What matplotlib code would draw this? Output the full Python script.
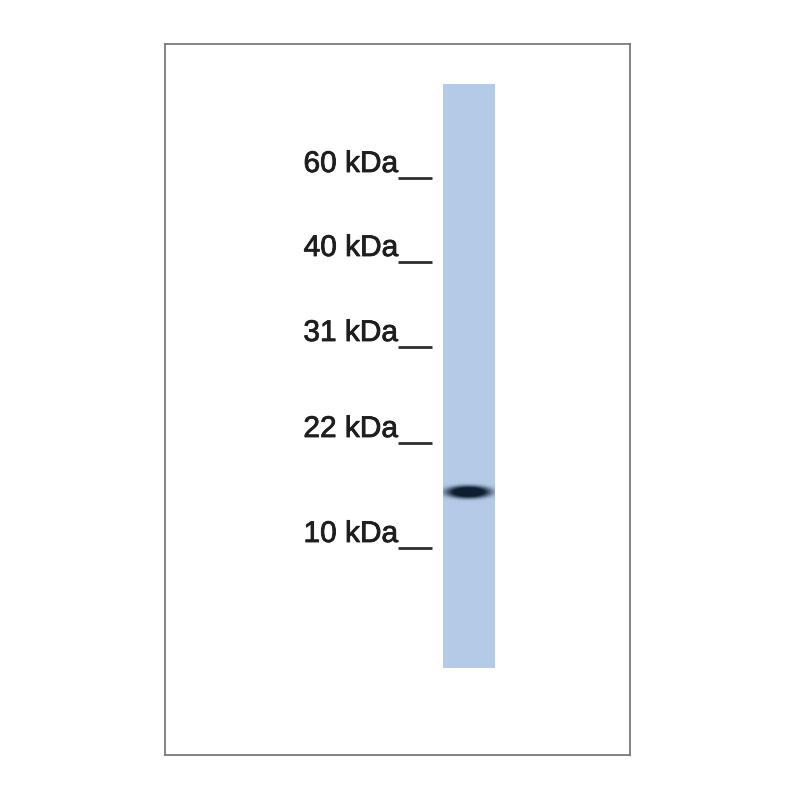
import numpy as np
import matplotlib
matplotlib.use("Agg")
import matplotlib.pyplot as plt
from matplotlib.patches import Rectangle
import matplotlib.patheffects as pe

marker_kda = [60, 40, 31, 22, 10]
marker_labels = ["60 kDa", "40 kDa", "31 kDa", "22 kDa", "10 kDa"]
marker_y = [178, 262, 347, 443, 548]      # migration position of each marker tick
band_y = [492]                            # migration position of detected band(s)
band_intensity = [1.0]

lane_x = (443, 495)
lane_y = (84, 668)
frame_x = (165, 630)
frame_y = (44, 755)

fig = plt.figure(figsize=(8, 8), dpi=100)
fig.patch.set_facecolor("white")
ax = fig.add_axes([frame_x[0] / 800, 1 - frame_y[1] / 800,
                   (frame_x[1] - frame_x[0]) / 800, (frame_y[1] - frame_y[0]) / 800])
ax.set_xlim(*frame_x)
ax.set_ylim(frame_y[1], frame_y[0])
ax.set_xticks([])
ax.set_yticks([])
for s in ax.spines.values():
    s.set_color("#7a7a7a")
    s.set_linewidth(1.3)

# lane
ax.add_patch(Rectangle((lane_x[0], lane_y[0]), lane_x[1] - lane_x[0], lane_y[1] - lane_y[0],
                       facecolor="#b4cae7", edgecolor="none", zorder=1))

# bands rendered as soft ellipses
cx = (lane_x[0] + lane_x[1]) / 2 - 0.5
xs = np.linspace(lane_x[0], lane_x[1], 160)
for by, bi in zip(band_y, band_intensity):
    ys = np.linspace(by - 14, by + 14, 80)
    X, Y = np.meshgrid(xs, ys)
    a, b = 23.0, 6.5
    r = ((X - cx) / a) ** 2 + ((Y - by) / b) ** 2
    alpha = bi * np.clip(1.25 * np.exp(-r ** 1.8), 0, 1)
    img = np.zeros(X.shape + (4,))
    img[..., 0] = 0.05
    img[..., 1] = 0.12
    img[..., 2] = 0.19
    img[..., 3] = alpha
    ax.imshow(img, extent=(xs[0], xs[-1], ys[-1], ys[0]), origin="upper",
              aspect="auto", interpolation="bilinear", zorder=2)

# markers
for lab, y in zip(marker_labels, marker_y):
    ax.text(398, y - 14, lab, ha="right", va="center", fontsize=21.5,
            family="Liberation Sans", color="#1e1e1e",
            path_effects=[pe.withStroke(linewidth=0.6, foreground="#1e1e1e")])
    ax.plot([398, 432], [y, y], color="#2e2e2e", lw=2.0, solid_capstyle="butt")

ax.set_xlim(*frame_x)
ax.set_ylim(frame_y[1], frame_y[0])
fig.savefig("out.png", dpi=100, facecolor="white")
